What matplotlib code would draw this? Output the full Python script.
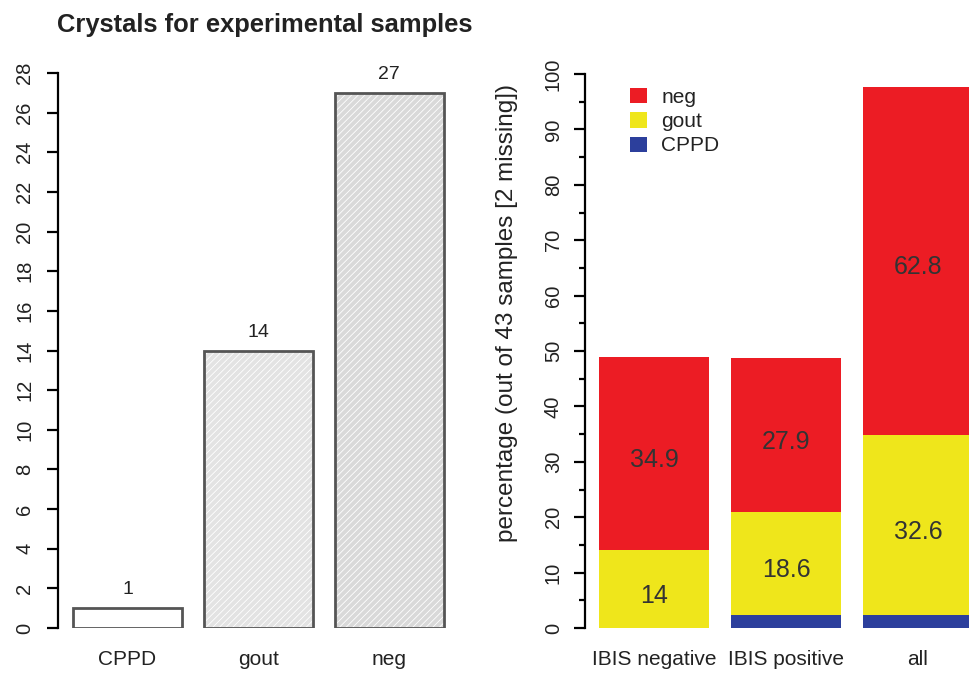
import matplotlib
matplotlib.use("Agg")
import matplotlib.pyplot as plt
from matplotlib.patches import Patch

plt.rcParams['font.family'] = ['Liberation Sans', 'DejaVu Sans']
plt.rcParams['hatch.linewidth'] = 0.6

# ---- data ----
left_categories = ["CPPD", "gout", "neg"]
left_counts = [1, 14, 27]
left_fill = ["white", "#e3e3e3", "#d9d9d9"]

right_categories = ["IBIS negative", "IBIS positive", "all"]
cppd_pct = [0.0, 2.3, 2.3]
gout_pct = [14.0, 18.6, 32.6]
neg_pct = [34.9, 27.9, 62.8]
gout_labels = ["14", "18.6", "32.6"]
neg_labels = ["34.9", "27.9", "62.8"]

title = "Crystals for experimental samples"
right_ylabel = "percentage (out of 43 samples [2 missing])"

RED = "#EC1C24"
YEL = "#EFE61B"
BLUE = "#2C3F9C"
TXT = "#222222"

W, H = 969, 674
fig = plt.figure(figsize=(W / 100, H / 100), dpi=100)

def fx(px):
    return px / W

def fy(py):
    return (H - py) / H

# ---- left panel ----
axL = fig.add_axes([fx(58), fy(628), fx(460) - fx(58), fy(73) - fy(628)])
xpos = [i * 1.2 for i in range(len(left_categories))]
axL.bar(xpos, left_counts, width=1.0, color=left_fill, edgecolor="none")
axL.bar(xpos, left_counts, width=1.0, fill=False, hatch="/////", edgecolor="white", linewidth=0)
axL.bar(xpos, left_counts, width=1.0, fill=False, edgecolor="#555555", linewidth=2)
for x, v in zip(xpos, left_counts):
    axL.annotate(str(v), (x, v), xytext=(0, 7), textcoords="offset points",
                 ha="center", va="bottom", fontsize=14, color=TXT)
axL.set_xlim(-0.638, 3.05)
axL.set_ylim(0, 28)
axL.set_yticks(range(0, 29, 2))
axL.set_xticks(xpos)
axL.set_xticklabels(left_categories, fontsize=15, color=TXT)
axL.tick_params(axis="x", length=0, pad=16)
axL.tick_params(axis="y", length=8, width=1.6, pad=9, labelsize=14.5, labelcolor=TXT)
for lab in axL.get_yticklabels():
    lab.set_rotation(90)
    lab.set_va("center")
for s in ["top", "right", "bottom"]:
    axL.spines[s].set_visible(False)
axL.spines["left"].set_linewidth(1.6)
axL.spines["left"].set_bounds(0, 28)
axL.patch.set_alpha(0)

fig.text(fx(57), fy(25), title, ha="left", va="center", fontsize=18.4, fontweight="bold", color=TXT)

# ---- right panel ----
axR = fig.add_axes([fx(585), fy(628), 1.0 - fx(585), fy(74) - fy(628)])
xr = [i * 1.2 for i in range(len(right_categories))]
axR.bar(xr, cppd_pct, width=1.0, color=BLUE, edgecolor="none")
axR.bar(xr, gout_pct, width=1.0, bottom=cppd_pct, color=YEL, edgecolor="none")
bottom_neg = [c + g for c, g in zip(cppd_pct, gout_pct)]
axR.bar(xr, neg_pct, width=1.0, bottom=bottom_neg, color=RED, edgecolor="none")
for x, c, g, n, gl, nl in zip(xr, cppd_pct, gout_pct, neg_pct, gout_labels, neg_labels):
    axR.annotate(gl, (x, c + g / 2), xytext=(0, -3), textcoords="offset points",
                 ha="center", va="center_baseline", fontsize=18, color="#333333")
    axR.annotate(nl, (x, c + g + n / 2), xytext=(0, -3), textcoords="offset points",
                 ha="center", va="center_baseline", fontsize=18, color="#333333")
axR.set_xlim(-0.627, 2.864)
axR.set_ylim(0, 100)
axR.set_yticks(range(0, 101, 10))
axR.set_yticks(range(5, 100, 10), minor=True)
axR.set_xticks(xr)
axR.set_xticklabels(right_categories, fontsize=15, color=TXT)
axR.tick_params(axis="x", length=0, pad=16)
axR.tick_params(axis="y", which="major", length=8, width=1.6, pad=8, labelsize=14.5, labelcolor=TXT)
axR.tick_params(axis="y", which="minor", length=4, width=1.6)
for lab in axR.get_yticklabels():
    lab.set_rotation(90)
    lab.set_va("center")
for s in ["top", "right", "bottom"]:
    axR.spines[s].set_visible(False)
axR.spines["left"].set_linewidth(1.6)
axR.spines["left"].set_bounds(0, 100)
axR.set_ylabel(right_ylabel, fontsize=17.5, color=TXT)
axR.yaxis.set_label_coords(-0.203, 0.569)
axR.yaxis.label.set_va("center")
axR.patch.set_alpha(0)

handles = [Patch(facecolor=RED, edgecolor="none"),
           Patch(facecolor=YEL, edgecolor="none"),
           Patch(facecolor=BLUE, edgecolor="none")]
fig.legend(handles, ["neg", "gout", "CPPD"], loc="upper left",
           bbox_to_anchor=(fx(630), fy(88)), bbox_transform=fig.transFigure,
           frameon=False, fontsize=15, handlelength=0.8, handleheight=0.75,
           handletextpad=0.7, labelspacing=0.25, borderpad=0, borderaxespad=0,
           labelcolor=TXT)

fig.savefig("out.png", dpi=100)
